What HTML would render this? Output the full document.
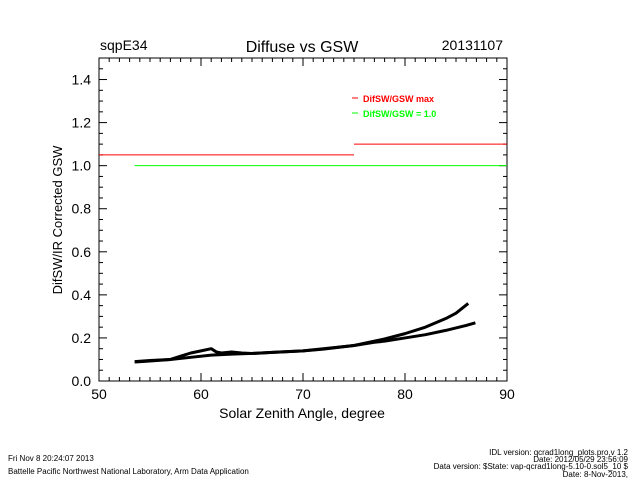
<!DOCTYPE html>
<html><head><meta charset="utf-8"><style>
body{margin:0;background:#fff;}
svg text{font-family:"Liberation Sans",sans-serif;}
</style></head><body>
<svg width="640" height="480" xmlns="http://www.w3.org/2000/svg">
<rect width="640" height="480" fill="#fff"/>
<g id="axes"></g>
<g id="marks"></g>
<text x="100" y="50" font-size="14">sqpE34</text>
<text x="302" y="52" font-size="16" text-anchor="middle">Diffuse vs GSW</text>
<text x="503" y="50" font-size="14" text-anchor="end">20131107</text>
<text x="302" y="418" font-size="14" text-anchor="middle">Solar Zenith Angle, degree</text>
<text transform="translate(62,220) rotate(-90)" font-size="13" text-anchor="middle">DifSW/IR Corrected GSW</text>
<g>
<line x1="352" y1="98" x2="358" y2="98" stroke="#f00"/>
<text x="363" y="102" font-size="9" fill="#f00" font-weight="bold">DifSW/GSW max</text>
<line x1="352" y1="113" x2="358" y2="113" stroke="#0f0"/>
<text x="363" y="117" font-size="9" fill="#0f0" font-weight="bold">DifSW/GSW = 1.0</text>
</g>
<text x="8" y="461" font-size="8">Fri Nov  8 20:24:07 2013</text>
<text x="8" y="474" font-size="8">Battelle Pacific Northwest National Laboratory, Arm Data Application</text>
<text x="628" y="455" font-size="8" text-anchor="end">IDL version: qcrad1long_plots.pro,v 1.2</text>
<text x="628" y="462" font-size="8" text-anchor="end">Date: 2012/05/29 23:56:09</text>
<text x="628" y="469" font-size="8" text-anchor="end">Data version: $State: vap-qcrad1long-5.10-0.sol5_10 $</text>
<text x="628" y="477" font-size="8" text-anchor="end">Date: 8-Nov-2013,</text>
</svg>
<script>
const xTicks=[50,60,70,80,90];
const yTicks=[0.0,0.2,0.4,0.6,0.8,1.0,1.2,1.4];
const yTickLabels=["0.0","0.2","0.4","0.6","0.8","1.0","1.2","1.4"];
const maxSegX=[[50,75],[75,90]];
const maxSegY=[1.05,1.10];
const oneLineX=[53.5,90];
const oneLineY=1.0;
const upperX=[53.5,55,57,58,59,60,61,61.5,62,63,64,65,67,70,72,75,78,80,82,84,85,86.2];
const upperY=[0.09,0.095,0.10,0.115,0.13,0.14,0.15,0.135,0.13,0.135,0.13,0.128,0.133,0.14,0.15,0.165,0.195,0.22,0.25,0.29,0.315,0.36];
const lowerX=[53.5,55,57,59,61,63,65,67,70,72,75,77,78,80,82,84,86,86.9];
const lowerY=[0.088,0.093,0.10,0.11,0.12,0.125,0.128,0.133,0.14,0.148,0.165,0.18,0.185,0.20,0.215,0.235,0.258,0.27];
const L=99,R=507,T=58,B=381;
const sx=v=>L+(v-50)/40*(R-L);
const sy=v=>B-v/1.5*(B-T);
const NS="http://www.w3.org/2000/svg";
function mk(tag,attrs,parent){const e=document.createElementNS(NS,tag);for(const k in attrs)e.setAttribute(k,attrs[k]);parent.appendChild(e);return e;}
const ax=document.getElementById('axes');
const frame=mk('rect',{x:L,y:T,width:R-L,height:B-T,fill:'none',stroke:'#000'},ax);


xTicks.forEach(v=>{
  const x=sx(v);
  mk('line',{x1:x,y1:B,x2:x,y2:B-8,stroke:'#000'},ax);
  mk('line',{x1:x,y1:T,x2:x,y2:T+8,stroke:'#000'},ax);
  const t=mk('text',{x:x,y:B+18,'font-size':14,'text-anchor':'middle'},ax);
  t.textContent=v;
  
  
});
for(let v=51;v<90;v++){const x=sx(v);mk('line',{x1:x,y1:B,x2:x,y2:B-4,stroke:'#000'},ax);mk('line',{x1:x,y1:T,x2:x,y2:T+4,stroke:'#000'},ax);}
yTicks.forEach((v,i)=>{
  const y=sy(v);
  mk('line',{x1:L,y1:y,x2:L+8,y2:y,stroke:'#000'},ax);
  mk('line',{x1:R,y1:y,x2:R-8,y2:y,stroke:'#000'},ax);
  const t=mk('text',{x:L-8,y:y+5,'font-size':14,'text-anchor':'end'},ax);
  t.textContent=yTickLabels[i];
  
  
});
for(let k=1;k<30;k++){if(k%4===0)continue;const y=sy(k*0.05);mk('line',{x1:L,y1:y,x2:L+4,y2:y,stroke:'#000'},ax);mk('line',{x1:R,y1:y,x2:R-4,y2:y,stroke:'#000'},ax);}
const mg=document.getElementById('marks');
maxSegX.forEach((s,i)=>{
  const l=mk('line',{x1:sx(s[0]),y1:sy(maxSegY[i]),x2:sx(s[1]),y2:sy(maxSegY[i]),stroke:'#f00'},mg);
  
  
});
const g1=mk('line',{x1:sx(oneLineX[0]),y1:sy(oneLineY),x2:sx(oneLineX[1]),y2:sy(oneLineY),stroke:'#0f0'},mg);


[[upperX,upperY,'upper-series'],[lowerX,lowerY,'lower-series']].forEach(([xs,ys,n])=>{
  const p=mk('polyline',{points:xs.map((x,i)=>sx(x)+','+sy(ys[i])).join(' '),fill:'none',stroke:'#000','stroke-width':3,'stroke-linejoin':'round'},mg);
  
  
});
</script>
</body></html>
